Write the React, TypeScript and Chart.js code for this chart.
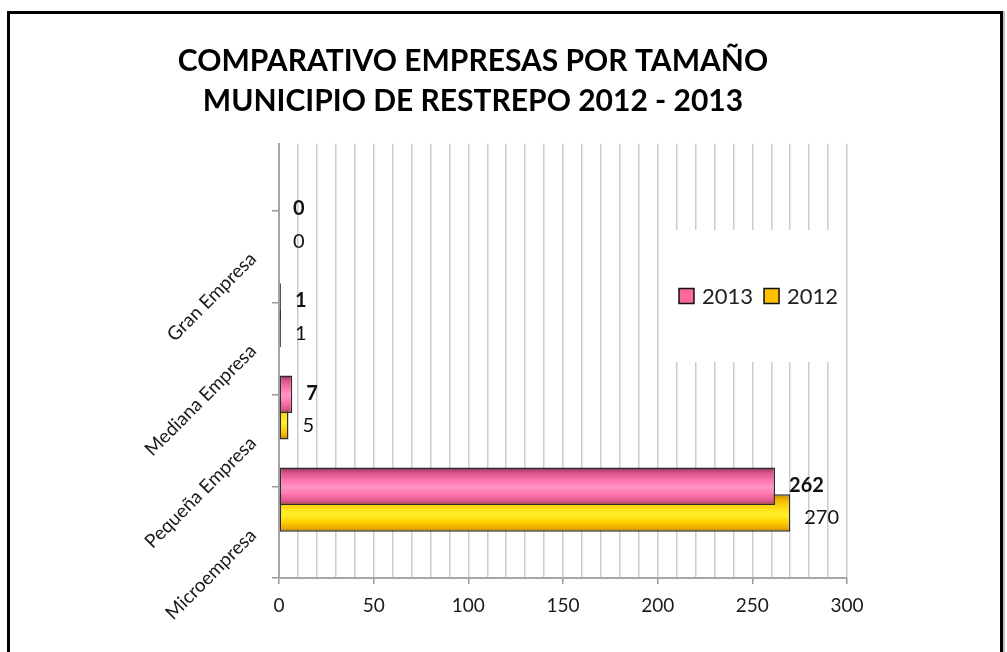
import React, { useEffect, useRef } from 'react';
import { Chart, registerables } from 'chart.js';

Chart.register(...registerables);

// ---------- data ----------
const categories = ['Gran Empresa', 'Mediana Empresa', 'Pequeña Empresa', 'Microempresa'];
const series2013 = [0, 1, 7, 262];
const series2012 = [0, 1, 5, 270];
const seriesNames = ['2013', '2012'];
const titleLines = ['COMPARATIVO EMPRESAS POR TAMAÑO', 'MUNICIPIO DE RESTREPO 2012 - 2013'];
const xMin = 0;
const xMax = 300;
const xGridStep = 10;
const xLabelStep = 50;

// ---------- style ----------
const FONT = 'Lato, "Noto Sans", sans-serif';
const legendColors = ['#ff6699', '#ffc000'];
const yMin = -0.86;
const yMax = 3.85;
const tickShift = -0.135;
const yTickValues = categories.map((_, i) => i + tickShift).concat([yMax]);

const gradientStops: [number, string][][] = [
  [
    [0, '#8a3156'],
    [0.14, '#d8558a'],
    [0.35, '#ff77ae'],
    [0.52, '#ff94c8'],
    [0.7, '#ff78ae'],
    [0.88, '#e3598f'],
    [1, '#a23c66'],
  ],
  [
    [0, '#c98a00'],
    [0.15, '#f0b400'],
    [0.4, '#ffe41a'],
    [0.55, '#fff02a'],
    [0.75, '#ffd000'],
    [0.9, '#eeaa00'],
    [1, '#c08000'],
  ],
];

const gradientPlugin = {
  id: 'barGradients',
  beforeDatasetsDraw(chart: any) {
    const ctx = chart.ctx as CanvasRenderingContext2D;
    chart.data.datasets.forEach((_: any, di: number) => {
      const meta = chart.getDatasetMeta(di);
      meta.data.forEach((el: any) => {
        const top = el.y - el.height / 2;
        const bottom = el.y + el.height / 2;
        if (!isFinite(top) || !isFinite(bottom) || bottom <= top) return;
        const g = ctx.createLinearGradient(0, top, 0, bottom);
        gradientStops[di].forEach(([o, c]) => g.addColorStop(o, c));
        el.options = Object.assign({}, el.options, { backgroundColor: g });
      });
    });
  },
};

const valueLabelPlugin = {
  id: 'valueLabels',
  afterDatasetsDraw(chart: any) {
    const ctx = chart.ctx as CanvasRenderingContext2D;
    chart.data.datasets.forEach((ds: any, di: number) => {
      const meta = chart.getDatasetMeta(di);
      meta.data.forEach((el: any, i: number) => {
        const raw = ds.data[i].x;
        ctx.save();
        ctx.font = `${di === 0 ? 'bold ' : ''}20px ${FONT}`;
        ctx.fillStyle = '#111111';
        ctx.textAlign = 'left';
        ctx.textBaseline = 'middle';
        ctx.fillText(String(raw), el.x + 14, el.y + (di === 0 ? -1 : 5));
        ctx.restore();
      });
    });
  },
};

const legendPlugin = {
  id: 'insideLegend',
  afterDraw(chart: any) {
    const ctx = chart.ctx as CanvasRenderingContext2D;
    ctx.save();
    ctx.fillStyle = '#ffffff';
    ctx.fillRect(675, 230, 170, 132);
    ctx.font = `22px ${FONT}`;
    ctx.textBaseline = 'middle';
    ctx.textAlign = 'left';
    let x = 679;
    const y = 296;
    const box = 15;
    chart.data.datasets.forEach((ds: any, i: number) => {
      ctx.fillStyle = legendColors[i];
      ctx.fillRect(x, y - box / 2, box, box);
      ctx.lineWidth = 1.5;
      ctx.strokeStyle = '#111111';
      ctx.strokeRect(x, y - box / 2, box, box);
      ctx.fillStyle = '#222222';
      ctx.fillText(ds.label, x + box + 8, y + 1);
      x += box + 8 + ctx.measureText(ds.label).width + 11;
    });
    ctx.restore();
  },
};

export default function App() {
  const canvasRef = useRef<HTMLCanvasElement | null>(null);

  useEffect(() => {
    if (!canvasRef.current) return;
    const barCommon = {
      borderColor: '#2b2b2b',
      borderWidth: 1.5,
      borderSkipped: false,
      categoryPercentage: 0.586,
      barPercentage: 1.41,
    };
    const chart = new Chart(canvasRef.current, {
      type: 'bar',
      data: {
        datasets: [
          {
            label: seriesNames[0],
            data: series2013.map((v, i) => ({ x: v, y: i })),
            backgroundColor: legendColors[0],
            ...barCommon,
          } as any,
          {
            label: seriesNames[1],
            data: series2012.map((v, i) => ({ x: v, y: i })),
            backgroundColor: legendColors[1],
            ...barCommon,
          } as any,
        ],
      },
      options: {
        indexAxis: 'y',
        responsive: false,
        animation: false,
        layout: { padding: 0 },
        plugins: {
          legend: { display: false },
          tooltip: { enabled: false },
          title: {
            display: true,
            text: titleLines,
            color: '#000000',
            font: { family: FONT, size: 30, weight: 'bold', lineHeight: 1.33 },
            padding: { top: 41, bottom: 23 },
          },
        },
        scales: {
          x: {
            type: 'linear',
            position: 'bottom',
            min: xMin,
            max: xMax,
            offset: false,
            ticks: {
              stepSize: xGridStep,
              autoSkip: false,
              maxRotation: 0,
              padding: 10,
              color: '#1a1a1a',
              font: { family: FONT, size: 19 },
              callback: (v: any) => (Number(v) % xLabelStep === 0 ? String(v) : ''),
            },
            grid: {
              offset: false,
              color: '#cccccc',
              lineWidth: 1.5,
              tickLength: 6,
              tickWidth: 1.5,
              tickColor: (c: any) =>
                c.tick && Number(c.tick.value) % xLabelStep === 0 ? '#999999' : 'rgba(0,0,0,0)',
            },
            border: { color: '#a6a6a6', width: 2 },
            afterFit: (s: any) => {
              s.height = 74;
            },
          },
          y: {
            type: 'linear',
            position: 'left',
            reverse: true,
            offset: false,
            min: yMin,
            max: yMax,
            afterBuildTicks: (s: any) => {
              s.ticks = yTickValues.map((v) => ({ value: v }));
            },
            ticks: {
              autoSkip: false,
              minRotation: 45,
              maxRotation: 45,
              labelOffset: 45,
              padding: 19,
              color: '#1a1a1a',
              font: { family: FONT, size: 19 },
              callback: (_v: any, i: number) => categories[i] ?? '',
            },
            grid: {
              offset: false,
              drawOnChartArea: false,
              tickLength: 7,
              color: '#999999',
              lineWidth: 1.5,
            },
            border: { color: '#a6a6a6', width: 2 },
            afterFit: (s: any) => {
              s.width = 279;
            },
          },
          yPad: {
            type: 'linear',
            position: 'right',
            display: true,
            grid: { display: false },
            ticks: { display: false },
            border: { display: false },
            afterFit: (s: any) => {
              s.width = 99;
            },
          },
        },
      } as any,
      plugins: [gradientPlugin, valueLabelPlugin, legendPlugin],
    });
    return () => chart.destroy();
  }, []);

  return (
    <div
      style={{
        position: 'fixed',
        left: 0,
        top: 0,
        width: 1007,
        height: 652,
        overflow: 'hidden',
        background: '#ffffff',
      }}
    >
      <div
        style={{
          position: 'absolute',
          left: 7,
          top: 11,
          width: 996,
          height: 720,
          border: '3.5px solid #000000',
          boxSizing: 'border-box',
          boxShadow: '2px 0 0 #c0c0c0',
        }}
      />
      <canvas
        ref={canvasRef}
        width={946}
        height={652}
        style={{ position: 'absolute', left: 0, top: 0, width: 946, height: 652 }}
      />
    </div>
  );
}
